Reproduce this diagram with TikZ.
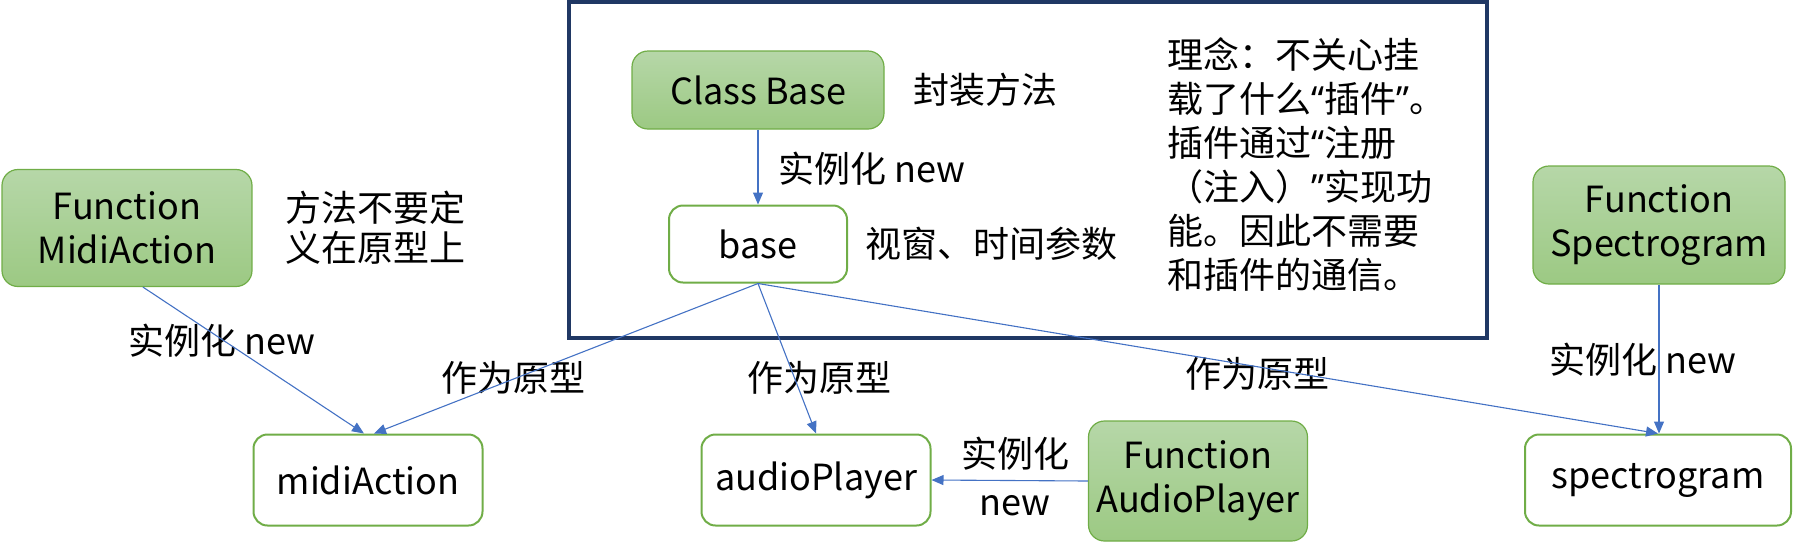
\documentclass[tikz,border=0pt]{standalone}
\usepackage{fontspec}
\setmainfont{Noto Sans CJK SC}
\newfontfamily\quotefont{Noto Sans}
\usetikzlibrary{positioning, arrows.meta}

\definecolor{frameblue}{HTML}{203864}
\definecolor{edgeblue}{HTML}{4472C4}
\definecolor{boxgreen}{HTML}{70AD47}
\definecolor{greentop}{HTML}{B6D7A8}
\definecolor{greenbottom}{HTML}{9CC983}

\newcommand{\openq}{{\quotefont “}}
\newcommand{\closeq}{{\quotefont ”}}

\begin{document}
\begin{tikzpicture}[
    x=0.5pt, y=-0.5pt,
    font=\fontsize{18}{22}\selectfont,
    fnbox/.style={rectangle, draw=boxgreen, line width=0.6pt, top color=greentop, bottom color=greenbottom, rounded corners=8pt, align=center, inner sep=0pt},
    objbox/.style={rectangle, draw=boxgreen, line width=1pt, fill=white, rounded corners=7pt, inner sep=0pt},
    note/.style={inner sep=0pt, align=left},
    line/.style={draw=edgeblue, line width=0.55pt, -{Triangle[length=6pt, width=5pt]}}
]
\useasboundingbox (0,0) rectangle (1794,548);

% framed part
\draw [frameblue, line width=1.6pt] (569,2) rectangle (1487,338);

\node [fnbox, minimum width=126pt, minimum height=39pt] (classbase) at (758,90) {Class Base};
\node [objbox, minimum width=89pt, minimum height=38.5pt] (base) at (758,244) {base};
\node [note, right=14pt of classbase] (wrapnote) {封装方法};
\node [note, right=8.5pt of base] (paramnote) {视窗、时间参数};
\node [note, anchor=north west] (ideanote) at (1167,37) {理念：不关心挂\\载了什么\openq 插件\closeq 。\\插件通过\openq 注册\\（注入）\closeq 实现功\\能。因此不需要\\和插件的通信。};

% functions and instances
\node [fnbox, minimum width=125pt, minimum height=58.5pt] (midifn) at (127,228) {Function\\MidiAction};
\node [note, right=16pt of midifn, font=\fontsize{18}{20}\selectfont] (protonote) {方法不要定\\义在原型上};
\node [objbox, minimum width=114.5pt, minimum height=45.5pt] (midiaction) at (368,480) {midiAction};
\node [objbox, minimum width=114.5pt, minimum height=45.5pt] (audioplayer) at (816,480) {audioPlayer};
\node [fnbox, minimum width=109.5pt, minimum height=60pt] (audiofn) at (1198,481) {Function\\AudioPlayer};
\node [fnbox, minimum width=126pt, minimum height=59pt] (spectrofn) at (1659,225) {Function\\Spectrogram};
\node [objbox, minimum width=133pt, minimum height=45.5pt] (spectrogram) at (1658,480) {spectrogram};

% arrow labels
\node [note] (newtop) at (872,169) {实例化 new};
\node [note] (newleft) at (222,341) {实例化 new};
\node [note] (newright) at (1643,360) {实例化 new};
\node [note, align=center, font=\fontsize{18}{24}\selectfont] (newbottom) at (1015,476) {实例化\\new};
\node [note] (protoleft) at (513,378) {作为原型};
\node [note] (protomid) at (819,378) {作为原型};
\node [note] (protoright) at (1257,374) {作为原型};

\path [line] (classbase) -- (base);
\path [line] ([xshift=8pt]midifn.south) -- ([xshift=-2pt]midiaction.north);
\path [line] (base.south) -- ([xshift=3pt]midiaction.north);
\path [line] (base.south) -- (audioplayer.north);
\path [line] (base.south) -- (spectrogram.north);
\path [line] (spectrofn.south) -- (spectrofn.south |- spectrogram.north);
\path [line] (audiofn.west) -- (audioplayer.east);

\end{tikzpicture}
\end{document}
